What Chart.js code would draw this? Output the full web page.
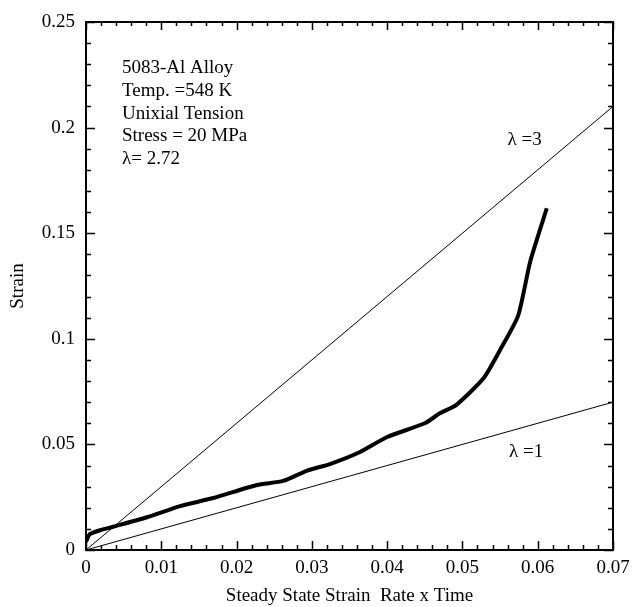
<!DOCTYPE html>
<html>
<head>
<meta charset="utf-8">
<script src="https://cdn.jsdelivr.net/npm/chart.js@4"></script>
<style>
    body { margin: 0; background: #fff; }
    #wrap { width: 633px; height: 607px; }
</style>
</head>
<body>
<div id="wrap"><canvas id="strainChart"></canvas></div>
<script>
// =========================================
// Data
// =========================================

const curveX = [0, 0.0005, 0.002, 0.0036, 0.0081, 0.0125, 0.0169, 0.0227, 0.0262, 0.0293,
    0.0324, 0.0364, 0.04, 0.045, 0.047, 0.0492, 0.0528, 0.055, 0.0574, 0.059, 0.0612];
const curveY = [0.004, 0.0075, 0.0095, 0.011, 0.0155, 0.0208, 0.0246, 0.0308, 0.0327, 0.0375,
    0.0407, 0.0464, 0.0535, 0.060, 0.0647, 0.0687, 0.0813, 0.0947, 0.111, 0.1365, 0.1618];

const lineX = [0, 0.07];
const lambda3Y = [0, 0.21];
const lambda1Y = [0, 0.07];

const xTicks = [0, 0.01, 0.02, 0.03, 0.04, 0.05, 0.06, 0.07];
const yTicks = [0, 0.05, 0.1, 0.15, 0.2, 0.25];

const infoLines = ["5083-Al Alloy", "Temp. =548 K", "Unixial Tension", "Stress = 20 MPa", "\u03bb= 2.72"];

const FONT = "'Liberation Serif', 'Times New Roman', serif";

function toPoints(xs, ys) {
    return xs.map((x, i) => ({ x: x, y: ys[i] }));
}

// =========================================
// Frame, minor ticks and notes
// =========================================

const framePlugin = {
    id: "frame",
    afterDraw(chart) {
        const { ctx, chartArea: a, scales } = chart;
        const xs = scales.x, ys = scales.y;
        ctx.save();
        ctx.strokeStyle = "#000";
        ctx.lineWidth = 2;
        ctx.strokeRect(a.left, a.top, a.right - a.left, a.bottom - a.top);

        ctx.lineWidth = 1.5;
        ctx.beginPath();
        for (let i = 0; i <= 35; i++) {
            const v = i * 0.002;
            const px = Math.round(xs.getPixelForValue(v)) + 0.5;
            const len = i % 5 === 0 ? 9 : 5;
            ctx.moveTo(px, a.bottom); ctx.lineTo(px, a.bottom - len);
            ctx.moveTo(px, a.top); ctx.lineTo(px, a.top + len - 1);
        }
        for (let i = 0; i <= 25; i++) {
            const v = i * 0.01;
            const py = Math.round(ys.getPixelForValue(v)) + 0.5;
            const len = i % 5 === 0 ? 9 : 5;
            ctx.moveTo(a.left, py); ctx.lineTo(a.left + len, py);
            ctx.moveTo(a.right, py); ctx.lineTo(a.right - len, py);
        }
        ctx.stroke();

        ctx.fillStyle = "#000";
        ctx.font = "19px " + FONT;
        ctx.textAlign = "left";
        ctx.textBaseline = "middle";
        infoLines.forEach((t, i) => ctx.fillText(t, 122, 68 + i * 22.8));

        ctx.fillText("\u03bb =3", xs.getPixelForValue(0.0560), ys.getPixelForValue(0.194));
        ctx.fillText("\u03bb =1", xs.getPixelForValue(0.0562), ys.getPixelForValue(0.0464));
        ctx.restore();
    }
};

// =========================================
// Chart
// =========================================

const chart = new Chart(document.getElementById("strainChart"), {
    type: "scatter",
    data: {
        datasets: [
            {
                label: "Strain",
                data: toPoints(curveX, curveY),
                showLine: true,
                borderColor: "#000",
                borderWidth: 4,
                pointRadius: 0,
                tension: 0.2
            },
            {
                label: "lambda 3",
                data: toPoints(lineX, lambda3Y),
                showLine: true,
                borderColor: "#000",
                borderWidth: 1,
                pointRadius: 0
            },
            {
                label: "lambda 1",
                data: toPoints(lineX, lambda1Y),
                showLine: true,
                borderColor: "#000",
                borderWidth: 1,
                pointRadius: 0
            }
        ]
    },
    options: {
        responsive: true,
        maintainAspectRatio: false,
        animation: false,
        layout: { padding: { top: 22, right: 20, left: 0, bottom: 0 } },
        plugins: {
            legend: { display: false },
            tooltip: { enabled: false }
        },
        scales: {
            x: {
                type: "linear",
                min: 0,
                max: 0.07,
                afterFit: s => {
                    s.height = 57;
                    s.paddingLeft = 0;
                    s.paddingRight = 0;
                },
                afterBuildTicks: s => { s.ticks = xTicks.map(v => ({ value: v })); },
                grid: { display: false, drawTicks: false },
                border: { display: false },
                ticks: {
                    color: "#000",
                    font: { family: FONT, size: 19 },
                    padding: 7,
                    maxRotation: 0,
                    callback: v => String(parseFloat(v.toFixed(3)))
                },
                title: {
                    display: true,
                    text: "Steady State Strain  Rate x Time",
                    color: "#000",
                    font: { family: FONT, size: 19 },
                    padding: { top: 0, bottom: 0 }
                }
            },
            y: {
                type: "linear",
                min: 0,
                max: 0.25,
                afterFit: s => {
                    s.width = 86;
                    s.paddingTop = 0;
                    s.paddingBottom = 0;
                },
                afterBuildTicks: s => { s.ticks = yTicks.map(v => ({ value: v })); },
                grid: { display: false, drawTicks: false },
                border: { display: false },
                ticks: {
                    color: "#000",
                    font: { family: FONT, size: 19 },
                    padding: 11,
                    callback: v => String(parseFloat(v.toFixed(3)))
                },
                title: {
                    display: true,
                    text: "Strain",
                    color: "#000",
                    font: { family: FONT, size: 19 },
                    padding: { top: 7, bottom: 0 }
                }
            }
        }
    },
    plugins: [framePlugin]
});
</script>
</body>
</html>
